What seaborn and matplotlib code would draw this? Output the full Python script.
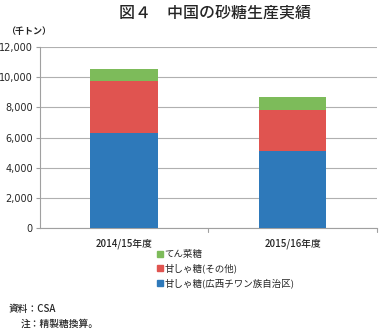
import matplotlib
matplotlib.use("Agg")
import matplotlib.pyplot as plt
import seaborn as sns
import pandas as pd
from matplotlib.lines import Line2D

categories = ["2014/15年度", "2015/16年度"]
cane_guangxi = [6320, 5100]
cane_other = [3450, 2720]
beet = [750, 840]
series_labels = ["てん菜糖", "甘しゃ糖(その他)", "甘しゃ糖(広西チワン族自治区)"]
colors = ["#7dbb5a", "#e05450", "#2e79ba"]
yticks = [0, 2000, 4000, 6000, 8000, 10000, 12000]

sns.set_style("white")
plt.rcParams['font.family'] = ['Noto Sans CJK JP', 'DejaVu Sans']

fig = plt.figure(figsize=(3.8, 3.35), dpi=100)
ax = fig.add_axes([0.105, 0.319, 0.887, 0.541])

df = pd.DataFrame({
    "cat": categories,
    "l1": cane_guangxi,
    "l2": [a + b for a, b in zip(cane_guangxi, cane_other)],
    "l3": [a + b + c for a, b, c in zip(cane_guangxi, cane_other, beet)],
})

for col, c in zip(["l3", "l2", "l1"], colors):
    sns.barplot(data=df, x="cat", y=col, order=categories, color=c,
                width=0.4, ax=ax, saturation=1, edgecolor="none", zorder=3)

ax.set_ylim(0, 12000)
ax.set_xlim(-0.5, 1.5)
ax.set_yticks(yticks)
ax.set_yticklabels([f"{v:,}" for v in yticks], fontsize=7, family=['DejaVu Sans'])
ax.set_xticks([0, 1])
ax.set_xticklabels(categories, fontsize=7, fontweight="medium")
ax.set_xlabel("")
ax.set_ylabel("")
ax.yaxis.grid(True, color="#b0b0b0", linewidth=0.8, zorder=0)
ax.set_axisbelow(True)
for s in ["top", "right"]:
    ax.spines[s].set_visible(False)
for s in ["left", "bottom"]:
    ax.spines[s].set_color("#a0a0a0")
    ax.spines[s].set_linewidth(0.8)
ax.tick_params(axis="y", left=True, length=3, color="#a0a0a0", pad=2)
ax.tick_params(axis="x", bottom=False, pad=4)
ax.axvline(0.5, ymin=-0.02, ymax=0, color="#a0a0a0", lw=0.8, clip_on=False)
ax.axvline(1.5, ymin=-0.02, ymax=0, color="#a0a0a0", lw=0.8, clip_on=False)

handles = [Line2D([0], [0], marker="s", linestyle="none", markersize=4,
                  markerfacecolor=c, markeredgecolor=c) for c in colors]
fig.legend(handles, series_labels, loc="upper left", bbox_to_anchor=(0.40, 0.265),
           frameon=False, fontsize=6.8, handletextpad=0.1, labelspacing=0.5,
           handlelength=0.8, borderaxespad=0)

fig.text(0.565, 0.962, "図４　中国の砂糖生産実績", ha="center", va="center",
         fontsize=11.5, fontweight="medium")
fig.text(0.015, 0.905, "（千トン）", ha="left", va="center", fontsize=6.5, fontweight="bold")
fig.text(0.022, 0.077, "資料：CSA", ha="left", va="center", fontsize=7, fontweight="medium")
fig.text(0.055, 0.033, "注：精製糖換算。", ha="left", va="center", fontsize=7, fontweight="medium")

fig.savefig("out.png", dpi=100)
